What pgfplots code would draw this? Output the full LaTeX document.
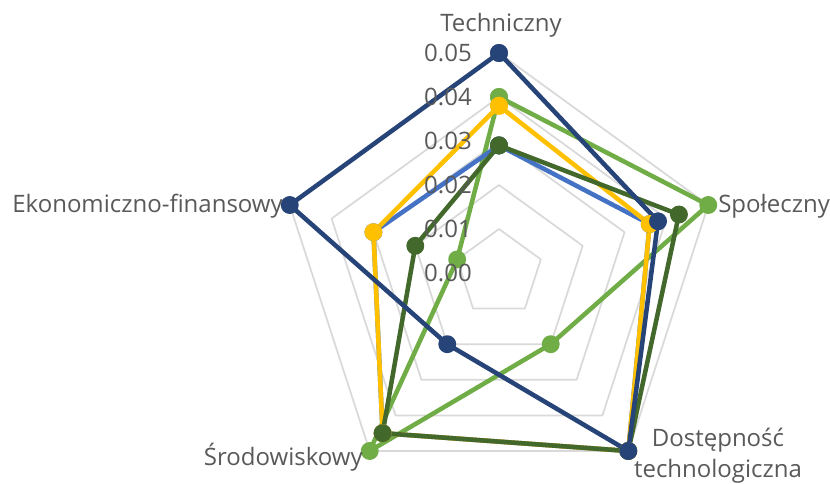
\documentclass[border=0pt]{standalone}
\usepackage{pgfplots}
\pgfplotsset{compat=1.18}
\usepgfplotslibrary{polar}
\usepackage{fontspec}
\setmainfont{Open Sans}
\definecolor{cblue}{HTML}{4472C4}
\definecolor{cyellow}{HTML}{FFC000}
\definecolor{clgreen}{HTML}{70AD47}
\definecolor{cnavy}{HTML}{264478}
\definecolor{cdgreen}{HTML}{43682B}
\definecolor{ctext}{HTML}{595959}
\definecolor{cgrid}{HTML}{D9D9D9}
\def\u{0.75pt}
\begin{document}
\begin{tikzpicture}
\path[use as bounding box] ({-499*\u},{-211*\u}) rectangle ({331*\u},{273*\u});
\begin{polaraxis}[
  at={(0,0)}, anchor=origin,
  width={440*\u}, height={440*\u}, scale only axis,
  hide axis, clip=false,
  xmin=0, xmax=360, ymin=0, ymax=0.05,
  every axis plot/.append style={line width=3.4pt, line join=round, mark=*, mark size=5pt, mark options={solid}},
]
% grid pentagons
\addplot[cgrid, line width=1.3pt, no markers] coordinates {(90,0.01)(18,0.01)(-54,0.01)(234,0.01)(162,0.01)(90,0.01)};
\addplot[cgrid, line width=1.3pt, no markers] coordinates {(90,0.02)(18,0.02)(-54,0.02)(234,0.02)(162,0.02)(90,0.02)};
\addplot[cgrid, line width=1.3pt, no markers] coordinates {(90,0.03)(18,0.03)(-54,0.03)(234,0.03)(162,0.03)(90,0.03)};
\addplot[cgrid, line width=1.3pt, no markers] coordinates {(90,0.04)(18,0.04)(-54,0.04)(234,0.04)(162,0.04)(90,0.04)};
\addplot[cgrid, line width=1.3pt, no markers] coordinates {(90,0.05)(18,0.05)(-54,0.05)(234,0.05)(162,0.05)(90,0.05)};
% series
\addplot[clgreen, mark options={fill=clgreen}] coordinates {(90,0.040)(18,0.050)(-54,0.020)(234,0.050)(162,0.010)(90,0.040)};
\addplot[cblue, mark options={fill=cblue}] coordinates {(90,0.029)(18,0.036)(-54,0.050)(234,0.045)(162,0.030)(90,0.029)};
\addplot[cyellow, mark options={fill=cyellow}] coordinates {(90,0.038)(18,0.036)(-54,0.050)(234,0.045)(162,0.030)(90,0.038)};
\addplot[cdgreen, mark options={fill=cdgreen}] coordinates {(90,0.029)(18,0.043)(-54,0.050)(234,0.045)(162,0.020)(90,0.029)};
\addplot[cnavy, mark options={fill=cnavy}] coordinates {(90,0.050)(18,0.038)(-54,0.050)(234,0.020)(162,0.050)(90,0.050)};
\end{polaraxis}
\begin{scope}[every node/.style={text=ctext, font=\fontsize{18pt}{21.6pt}\selectfont, inner sep=0pt}]
\node[anchor=base] at ({2*\u},{241*\u}) {Techniczny};
\node[anchor=base east] at ({-216*\u},{60*\u}) {Ekonomiczno-finansowy};
\node[anchor=base west] at ({219*\u},{60*\u}) {Społeczny};
\node[anchor=base] at ({219*\u},{-174*\u}) {Dostępność};
\node[anchor=base] at ({219*\u},{-204*\u}) {technologiczna};
\node[anchor=base east] at ({-136*\u},{-192*\u}) {Środowiskowy};
\node[anchor=east] at ({-27*\u},{0*\u}) {0.00};
\node[anchor=east] at ({-27*\u},{44*\u}) {0.01};
\node[anchor=east] at ({-27*\u},{88*\u}) {0.02};
\node[anchor=east] at ({-27*\u},{132*\u}) {0.03};
\node[anchor=east] at ({-27*\u},{176*\u}) {0.04};
\node[anchor=east] at ({-27*\u},{220*\u}) {0.05};
\end{scope}
\end{tikzpicture}
\end{document}
